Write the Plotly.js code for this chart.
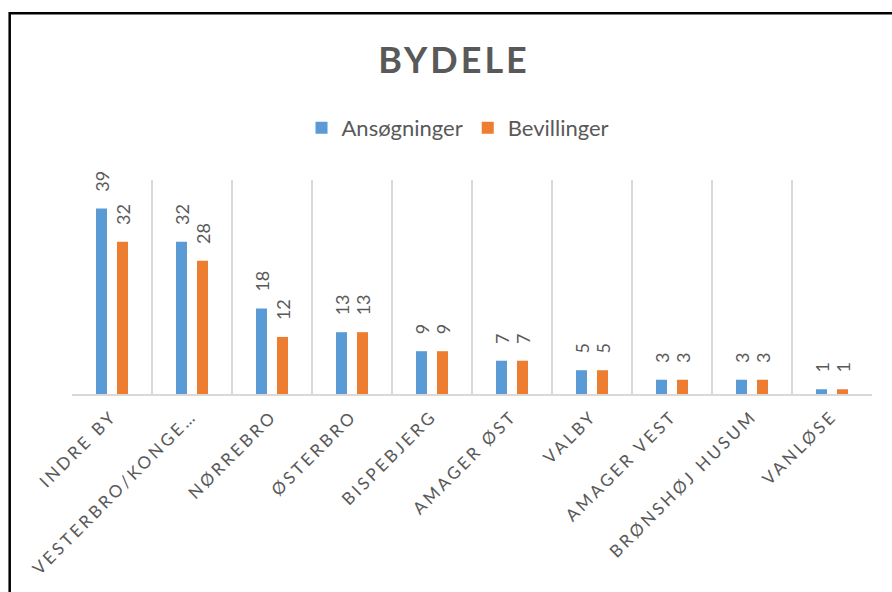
<!DOCTYPE html>
<html>
<head>
<meta charset="utf-8">
<script src="https://cdn.plot.ly/plotly-3.0.1.min.js"></script>
<style>
  html, body { margin: 0; padding: 0; background: #fff; }
  #chart { width: 892px; height: 592px; }
  .gtitle { letter-spacing: 3px; }
  .xtick text { letter-spacing: 3px; }
</style>
</head>
<body>
<div id="chart"></div>
<script>
const categories = ["INDRE BY", "VESTERBRO/KONGE…", "NØRREBRO", "ØSTERBRO", "BISPEBJERG", "AMAGER ØST", "VALBY", "AMAGER VEST", "BRØNSHØJ HUSUM", "VANLØSE"];
const ansogninger = [39, 32, 18, 13, 9, 7, 5, 3, 3, 1];
const bevillinger = [32, 28, 12, 13, 9, 7, 5, 3, 3, 1];
const seriesNames = ["Ansøgninger", "Bevillinger"];

const grey = "#595959";
const pad = "\u00a0\u00a0\u00a0";

function barTrace(name, vals, color) {
  return {
    type: "bar",
    name: name,
    x: categories,
    y: vals,
    marker: { color: color },
    text: vals.map(v => pad + v),
    textposition: "outside",
    textangle: -90,
    constraintext: "none",
    cliponaxis: false,
    outsidetextfont: { family: "Lato, sans-serif", size: 18, color: grey },
    hoverinfo: "x+y"
  };
}

const data = [
  barTrace(seriesNames[0], ansogninger, "#5b9bd5"),
  barTrace(seriesNames[1], bevillinger, "#ed7d31")
];

const layout = {
  width: 892,
  height: 592,
  paper_bgcolor: "#ffffff",
  plot_bgcolor: "#ffffff",
  margin: { l: 72, r: 20, t: 180, b: 198 },
  font: { family: "Lato, sans-serif", color: grey },
  title: {
    text: "BYDELE",
    font: { family: "Lato, sans-serif", size: 36, weight: "bold", color: grey },
    xref: "container", x: 0.509, xanchor: "center",
    yref: "container", y: 1 - 60 / 592, yanchor: "middle"
  },
  showlegend: true,
  legend: {
    orientation: "h",
    xref: "container", x: 458 / 892, xanchor: "center",
    yref: "container", y: 1 - 128 / 592, yanchor: "middle",
    font: { family: "Lato, sans-serif", size: 22, color: grey },
    itemwidth: 30
  },
  barmode: "group",
  bargap: 0.475,
  bargroupgap: 0.476,
  xaxis: {
    type: "category",
    tickson: "boundaries",
    showgrid: true,
    gridcolor: "#d9d9d9",
    gridwidth: 1.3,
    showline: true,
    linecolor: "#d9d9d9",
    linewidth: 1.5,
    ticks: "",
    tickangle: -45,
    ticklabelstandoff: 4,
    tickfont: { family: "Lato, sans-serif", size: 17, color: grey },
    fixedrange: true
  },
  yaxis: {
    range: [0, 45],
    visible: false,
    fixedrange: true
  },
  shapes: [{
    type: "path",
    xref: "paper", yref: "paper",
    path: "M -0.0779,-1 L -0.0779,1.779 L 1.2,1.779",
    line: { color: "#000000", width: 2.5 }
  }]
};

Plotly.newPlot("chart", data, layout, { displayModeBar: false, staticPlot: true });
</script>
</body>
</html>
